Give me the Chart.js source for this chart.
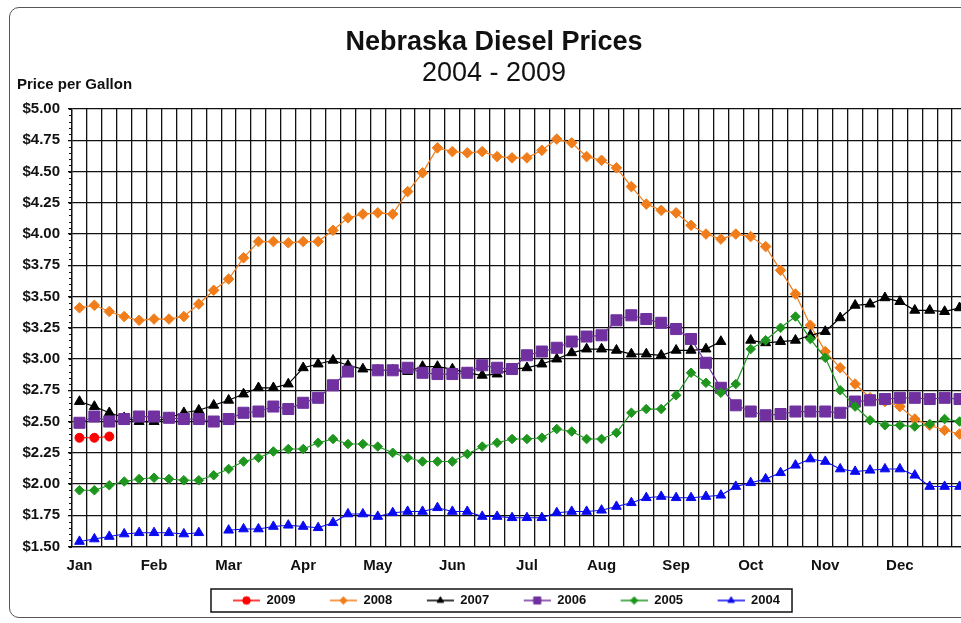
<!DOCTYPE html>
<html>
<head>
<meta charset="utf-8">
<title>Nebraska Diesel Prices</title>
<script src="https://cdn.jsdelivr.net/npm/chart.js@4.4.1/dist/chart.umd.min.js"></script>
<style>
  html, body { margin: 0; padding: 0; background: #fff; overflow: hidden; }
  #frame { position: absolute; left: 9px; top: 7px; width: 1000px; height: 609px; border: 1.5px solid #555; border-radius: 10px; }
  #wrap { position: absolute; left: 0; top: 0; width: 980px; height: 623px; }
</style>
</head>
<body>
<div id="frame"></div>
<div id="wrap"><canvas id="dieselchart" width="980" height="623"></canvas></div>
<script>
// weekly slots, 5 per month (empty slot when the month had only 4 weeks)
const months = ['Jan', 'Feb', 'Mar', 'Apr', 'May', 'Jun', 'Jul', 'Aug', 'Sep', 'Oct', 'Nov', 'Dec'];
const slotsPerMonth = 5;

const yMin = 1.5;
const yMax = 5;
const yStep = 0.25;

const p2009 = [2.37, 2.37, 2.38];

const p2008 = [3.41, 3.43, 3.38, 3.34, 3.31, 3.32, 3.32, 3.34, 3.44, 3.55,
  3.64, 3.81, 3.94, 3.94, 3.93, 3.94, 3.94, 4.03, 4.13, 4.16,
  4.17, 4.16, 4.34, 4.49, 4.69, 4.66, 4.65, 4.66, 4.62, 4.61,
  4.61, 4.67, 4.76, 4.73, 4.62, 4.59, 4.53, 4.38, 4.24, 4.19,
  4.17, 4.07, 4.00, 3.96, 4.00, 3.98, 3.90, 3.71, 3.52, 3.27,
  3.06, 2.93, 2.80, 2.69, 2.66, 2.62, 2.52, 2.47, 2.43, 2.40];

const p2007 = [2.66, 2.62, 2.57, 2.53, 2.50, 2.50, 2.53, 2.57, 2.59, 2.63,
  2.67, 2.72, 2.77, 2.77, 2.80, 2.93, 2.96, 2.99, 2.95, 2.92,
  2.91, 2.91, 2.90, 2.94, 2.94, 2.92, 2.89, 2.87, 2.88, 2.92,
  2.93, 2.96, 3.00, 3.05, 3.08, 3.08, 3.07, 3.04, 3.04, 3.03,
  3.07, 3.07, 3.08, 3.14, null, 3.15, 3.13, 3.14, 3.15, 3.19,
  3.22, 3.33, 3.43, 3.44, 3.49, 3.46, 3.39, 3.39, 3.38, 3.41];

const p2006 = [2.49, 2.54, 2.50, 2.52, 2.54, 2.54, 2.53, 2.52, 2.52, 2.50,
  2.52, 2.57, 2.58, 2.62, 2.60, 2.65, 2.69, 2.79, 2.90, null,
  2.91, 2.91, 2.93, 2.89, 2.88, 2.88, 2.89, 2.95, 2.93, 2.92,
  3.03, 3.06, 3.09, 3.14, 3.18, 3.19, 3.31, 3.35, 3.32, 3.29,
  3.24, 3.16, 2.97, 2.77, 2.63, 2.58, 2.55, 2.56, 2.58, 2.58,
  2.58, 2.57, 2.66, 2.67, 2.68, 2.69, 2.69, 2.68, 2.69, 2.68];

const p2005 = [1.95, 1.95, 1.99, 2.02, 2.04, 2.05, 2.04, 2.03, 2.03, 2.07,
  2.12, 2.18, 2.21, 2.26, 2.28, 2.28, 2.33, 2.36, 2.32, 2.32,
  2.30, 2.25, 2.21, 2.18, 2.18, 2.18, 2.24, 2.30, 2.33, 2.36,
  2.36, 2.37, 2.44, 2.42, 2.36, 2.36, 2.41, 2.57, 2.60, 2.60,
  2.71, 2.89, 2.81, 2.73, 2.80, 3.08, 3.15, 3.25, 3.34, 3.16,
  3.01, 2.75, 2.62, 2.51, 2.47, 2.47, 2.46, 2.48, 2.52, 2.50];

const p2004 = [1.54, 1.56, 1.58, 1.60, 1.61, 1.61, 1.61, 1.60, 1.61, null,
  1.63, 1.64, 1.64, 1.66, 1.67, 1.66, 1.65, 1.69, 1.76, 1.76,
  1.74, 1.77, 1.78, 1.78, 1.81, 1.78, 1.78, 1.74, 1.74, 1.73,
  1.73, 1.73, 1.77, 1.78, 1.78, 1.79, 1.82, 1.85, 1.89, 1.90,
  1.89, 1.89, 1.90, 1.91, 1.98, 2.01, 2.04, 2.09, 2.15, 2.20,
  2.18, 2.12, 2.10, 2.11, 2.12, 2.12, 2.07, 1.98, 1.98, 1.98];

const labels = [];
months.forEach(m => {
  labels.push(m);
  for (let i = 1; i < slotsPerMonth; i++) labels.push('');
});

const fontFamily = 'Arial, "Liberation Sans", sans-serif';
const ink = '#111';

function series(label, data, color, style, radius) {
  return {
    label: label,
    data: data,
    borderColor: color,
    backgroundColor: color,
    borderWidth: 1.2,
    pointStyle: style,
    pointRadius: radius,
    pointBackgroundColor: color,
    pointBorderColor: color,
    pointBorderWidth: 1,
    tension: 0,
    spanGaps: false
  };
}

const datasets = [
  series('2009', p2009, '#FF0000', 'circle', 4.5),
  series('2008', p2008, '#F07D1A', 'rectRot', 5.3),
  series('2007', p2007, '#000000', 'triangle', 5.8),
  series('2006', p2006, '#7030A0', 'rect', 7.8),
  series('2005', p2005, '#1E961E', 'rectRot', 4.8),
  series('2004', p2004, '#0A0AF0', 'triangle', 5.6)
];
// excel draws later series on top
datasets.forEach((ds, i) => { ds.order = datasets.length - i; });

// line + marker swatch for the legend
function legendSwatch(ds) {
  const c = document.createElement('canvas');
  c.width = 52;
  c.height = 12;
  const g = c.getContext('2d');
  g.strokeStyle = ds.borderColor;
  g.fillStyle = ds.borderColor;
  g.lineWidth = 1.5;
  g.beginPath();
  g.moveTo(25, 6);
  g.lineTo(52, 6);
  g.stroke();
  g.lineWidth = 1;
  Chart.helpers.drawPoint(g, { pointStyle: ds.pointStyle, radius: ds.pointStyle == 'rect' ? 5 : 3.8, borderWidth: 1, rotation: 0 }, 38.5, 6);
  return c;
}

const extras = {
  id: 'extras',
  beforeDraw(chart) {
    const ctx = chart.ctx;
    const y = chart.scales.y;
    const left = chart.chartArea.left;
    ctx.save();
    // minor ticks on the value axis
    ctx.strokeStyle = ink;
    ctx.lineWidth = 1;
    for (let v = yMin; v <= yMax + 1e-9; v += 0.05) {
      const py = Math.round(y.getPixelForValue(v)) + 0.5;
      ctx.beginPath();
      ctx.moveTo(left - 3, py);
      ctx.lineTo(left, py);
      ctx.stroke();
    }
    ctx.fillStyle = ink;
    ctx.font = 'bold 15px ' + fontFamily;
    ctx.textAlign = 'left';
    ctx.textBaseline = 'middle';
    ctx.fillText('Price per Gallon', 17, chart.chartArea.top - 24);
    ctx.restore();
  },
  afterDraw(chart) {
    const lg = chart.legend;
    if (!lg || !lg.legendHitBoxes.length) return;
    const first = lg.legendHitBoxes[0];
    const last = lg.legendHitBoxes[lg.legendHitBoxes.length - 1];
    const cy = first.top + first.height / 2;
    const ctx = chart.ctx;
    ctx.save();
    ctx.strokeStyle = ink;
    ctx.lineWidth = 1.5;
    ctx.strokeRect(first.left + 3, cy - 11.5, last.left + last.width + 12 - (first.left + 3), 23);
    ctx.restore();
  }
};

const ctx = document.getElementById('dieselchart').getContext('2d');
const chart = new Chart(ctx, {
  type: 'line',
  data: { labels: labels, datasets: datasets },
  options: {
    responsive: false,
    animation: false,
    layout: { padding: { left: 21, right: 13, top: 0, bottom: 6 } },
    plugins: {
      title: {
        display: true,
        text: 'Nebraska Diesel Prices',
        color: ink,
        font: { family: fontFamily, size: 27, weight: 'bold', lineHeight: 1.2 },
        padding: { top: 26, bottom: 0 }
      },
      subtitle: {
        display: true,
        text: '2004 - 2009',
        color: ink,
        font: { family: fontFamily, size: 27, weight: 'normal', lineHeight: 1.1 },
        padding: { top: 0, bottom: 21 }
      },
      legend: {
        position: 'bottom',
        labels: {
          usePointStyle: true,
          pointStyleWidth: 52,
          padding: 9.5,
          color: ink,
          font: { family: fontFamily, size: 13, weight: 'bold' },
          generateLabels(chart) {
            return chart.data.datasets.map((ds, i) => ({
              text: ds.label,
              fillStyle: ds.borderColor,
              strokeStyle: ds.borderColor,
              lineWidth: 0,
              pointStyle: legendSwatch(ds),
              fontColor: ink,
              hidden: false,
              datasetIndex: i
            }));
          }
        }
      },
      tooltip: { enabled: false }
    },
    scales: {
      x: {
        offset: true,
        grid: { color: ink, lineWidth: 1.3, offset: true, drawTicks: false },
        border: { color: ink, width: 1.3 },
        ticks: {
          autoSkip: false,
          maxRotation: 0,
          padding: 10,
          color: ink,
          font: { family: fontFamily, size: 15, weight: 'bold' }
        }
      },
      y: {
        min: yMin,
        max: yMax,
        afterFit: function(scale) { scale.width = 51; },
        grid: { color: ink, lineWidth: 1.3, tickLength: 4, tickColor: ink },
        border: { color: ink, width: 1.3 },
        ticks: {
          stepSize: yStep,
          padding: 8,
          color: ink,
          font: { family: fontFamily, size: 15, weight: 'bold' },
          callback: function(value) { return '$' + value.toFixed(2); }
        }
      }
    }
  },
  plugins: [extras]
});
</script>
</body>
</html>
